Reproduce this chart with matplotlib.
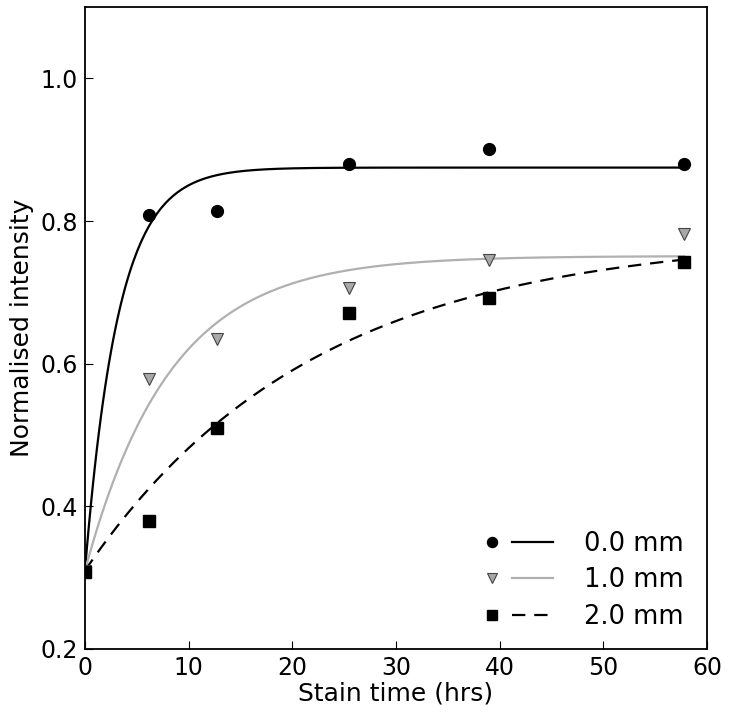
import numpy as np
import matplotlib
matplotlib.use('Agg')
import matplotlib.pyplot as plt
from matplotlib.legend_handler import HandlerTuple

# measured points
stain_time = [0.0, 6.2, 12.7, 25.5, 39.0, 57.8]
depth_0mm = [0.31, 0.809, 0.814, 0.880, 0.901, 0.880]
depth_1mm = [0.31, 0.579, 0.635, 0.706, 0.746, 0.782]
depth_2mm = [0.308, 0.379, 0.510, 0.671, 0.692, 0.743]

# fitted saturation curves: y = plateau - (plateau - start) * exp(-t / tau)
fit_start = 0.31
fit_plateau = [0.875, 0.751, 0.78]
fit_tau = [3.2, 8.2, 22.0]

labels = ['0.0 mm', '1.0 mm', '2.0 mm']

plt.rcParams['font.family'] = 'DejaVu Sans'
plt.rcParams['font.size'] = 17

fig = plt.figure(figsize=(7.3, 7.12), dpi=100)
ax = fig.add_axes([0.1164, 0.0885, 0.852, 0.9015])

t_fit = np.linspace(0, stain_time[-1], 300)
curves = [fit_plateau[i] - (fit_plateau[i] - fit_start) * np.exp(-t_fit / fit_tau[i])
          for i in range(3)]

grey = '#b0b0b0'
l0, = ax.plot(t_fit, curves[0], color='black', lw=1.6)
l1, = ax.plot(t_fit, curves[1], color=grey, lw=1.6)
l2, = ax.plot(t_fit, curves[2], color='black', lw=1.6, dashes=(6, 4))

m0, = ax.plot(stain_time, depth_0mm, 'o', color='black', ms=8.5, ls='none')
m1, = ax.plot(stain_time, depth_1mm, 'v', mfc='#a8a8a8', mec='#444444', mew=0.8,
              ms=9, ls='none')
m2, = ax.plot(stain_time, depth_2mm, 's', color='black', ms=8, ls='none')

ax.set_xlim(0, 60)
ax.set_ylim(0.2, 1.1)
ax.set_xticks([0, 10, 20, 30, 40, 50, 60])
ax.set_yticks([0.2, 0.4, 0.6, 0.8, 1.0])
ax.tick_params(direction='in', length=6, width=0.8, top=False, right=False, pad=5)
for sp in ax.spines.values():
    sp.set_linewidth(1.3)

ax.set_xlabel('Stain time (hrs)', fontsize=18, labelpad=1)
ax.set_ylabel('Normalised intensity', fontsize=18, labelpad=5)

leg = ax.legend([(m0, l0), (m1, l1), (m2, l2)], labels,
                handler_map={tuple: HandlerTuple(ndivide=None, pad=0.0)},
                loc='lower right', bbox_to_anchor=(1.0, -0.006),
                frameon=False, fontsize=18.5, handlelength=3.2, handletextpad=1.2,
                labelspacing=0.4, markerscale=0.85)

fig.savefig('out.png', dpi=100)
